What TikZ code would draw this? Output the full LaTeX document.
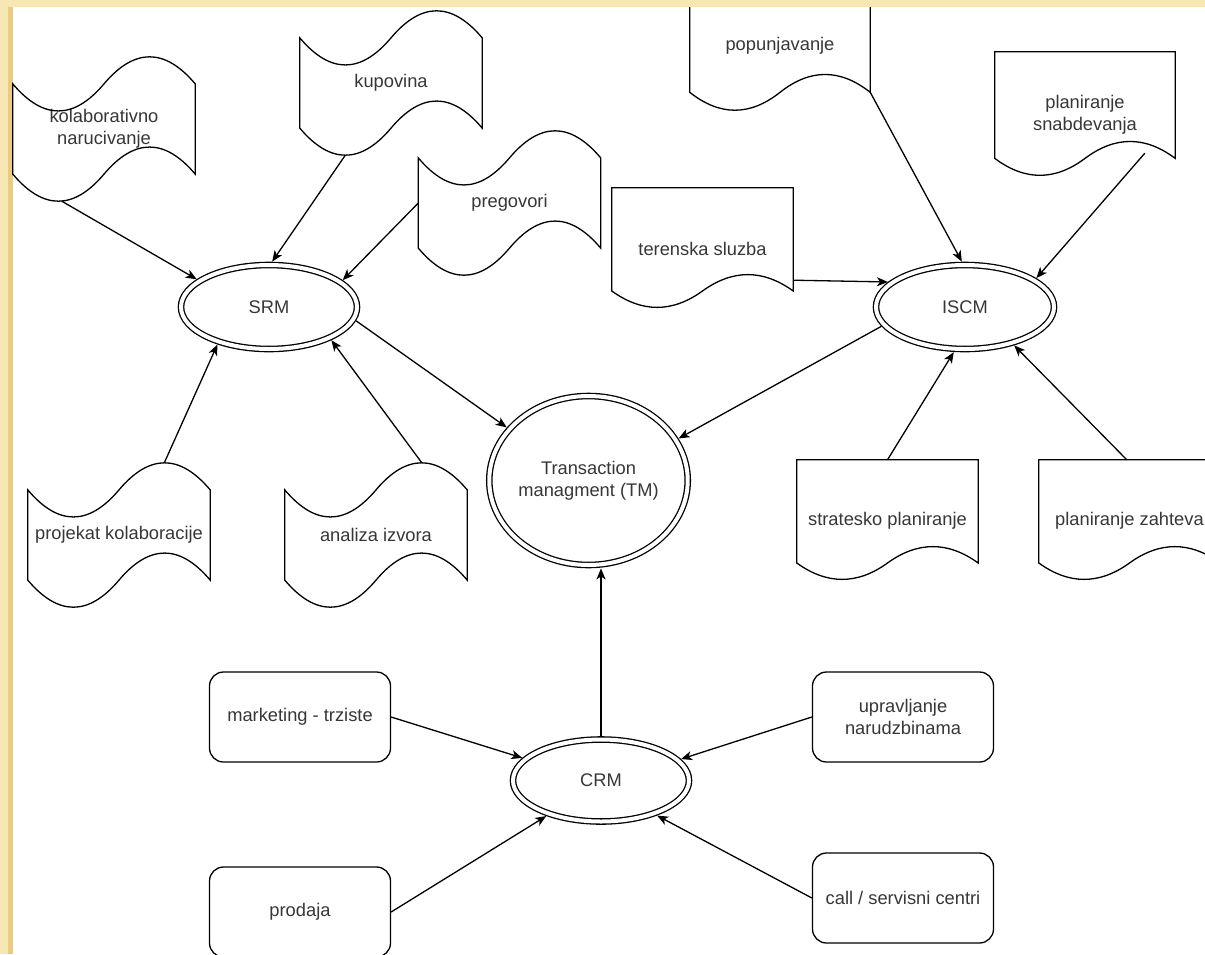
\documentclass[tikz,border=0pt]{standalone}
\usepackage{fontspec}
\setmainfont{Liberation Sans}
\usetikzlibrary{arrows.meta,calc,shapes.geometric}

\definecolor{paper}{RGB}{247,231,180}
\definecolor{rim}{RGB}{234,204,128}
\definecolor{ink}{RGB}{55,55,55}

% wavy outline (top and bottom) round a named node
\newcommand{\tapeline}[1]{%
  \draw[outline] let \p1=(#1.north west), \p2=(#1.south east),
    \n1={\x2-\x1}, \n2={0.4*(\y1-\y2)} in
    (\x1,\y1-0.5*\n2)
    .. controls (\x1+\n1/6,\y1-1.1*\n2) and (\x1+\n1/3,\y1-1.1*\n2) .. (\x1+\n1/2,\y1-0.5*\n2)
    .. controls (\x1+2*\n1/3,\y1+0.1*\n2) and (\x1+5*\n1/6,\y1+0.1*\n2) .. (\x2,\y1-0.5*\n2)
    -- (\x2,\y2+0.5*\n2)
    .. controls (\x1+5*\n1/6,\y2+1.1*\n2) and (\x1+2*\n1/3,\y2+1.1*\n2) .. (\x1+\n1/2,\y2+0.5*\n2)
    .. controls (\x1+\n1/3,\y2-0.1*\n2) and (\x1+\n1/6,\y2-0.1*\n2) .. (\x1,\y2+0.5*\n2)
    -- cycle;}
% flat top, wavy bottom
\newcommand{\docline}[1]{%
  \draw[outline] let \p1=(#1.north west), \p2=(#1.south east),
    \n1={\x2-\x1}, \n2={0.3*(\y1-\y2)} in
    (\x1,\y1) -- (\x2,\y1) -- (\x2,\y2+0.5*\n2)
    .. controls (\x1+5*\n1/6,\y2+1.1*\n2) and (\x1+2*\n1/3,\y2+1.1*\n2) .. (\x1+\n1/2,\y2+0.5*\n2)
    .. controls (\x1+\n1/3,\y2-0.1*\n2) and (\x1+\n1/6,\y2-0.1*\n2) .. (\x1,\y2+0.5*\n2)
    -- cycle;}

\begin{document}
\begin{tikzpicture}[x=1pt, y=-1pt,
  font=\fontsize{18.3}{22}\selectfont,
  outline/.style={line width=1.3pt, draw=black},
  tapebox/.style={minimum width=182pt, minimum height=150pt, inner sep=0pt, align=center, text=ink},
  docbox/.style={minimum width=181pt, minimum height=121pt, inner sep=0pt, align=center, text=ink},
  roundbox/.style={draw, line width=1.3pt, rounded corners=14pt, minimum width=181pt, minimum height=90pt, inner sep=0pt, align=center, text=ink},
  hub/.style={ellipse, draw, line width=1.3pt, double, double distance=4pt, inner sep=0pt, outer sep=3.4pt, align=center, text=ink},
  link/.style={line width=1.3pt, -{Stealth[length=11pt,width=9pt,inset=3pt]}}]

\useasboundingbox (0,0) rectangle (1205,954);
\fill[paper] (0,0) rectangle (1205,954);
\fill[rim] (8,7) rectangle (13,954);
\fill[white] (13,7) rectangle (1205,954);

\begin{scope}
\clip (12,7) rectangle (1205,954);

% SRM side
\node[tapebox] (kolab) at (104,129) {kolaborativno\\narucivanje};
\node[tapebox] (kupovina) at (391,83) {kupovina};
\node[tapebox] (pregovori) at (509.5,203) {pregovori};
\node[tapebox] (projekat) at (119,535) {projekat kolaboracije};
\node[tapebox] (analiza) at (376,535) {analiza izvora};
\tapeline{kolab}
\tapeline{kupovina}
\tapeline{pregovori}
\tapeline{projekat}
\tapeline{analiza}

% ISCM side
\node[docbox, minimum width=180pt, minimum height=132pt] (popun) at (780,46) {popunjavanje};
\node[docbox, minimum width=180pt, minimum height=125pt] (snab) at (1085,114.5) {planiranje\\snabdevanja};
\node[docbox] (teren) at (702.5,248.5) {terenska sluzba};
\node[docbox] (strat) at (887.5,520.5) {stratesko planiranje};
\node[docbox] (zahteva) at (1129.5,520.5) {planiranje zahteva};
\docline{popun}
\docline{snab}
\docline{teren}
\docline{strat}
\docline{zahteva}

% CRM side
\node[roundbox] (marketing) at (300,717) {marketing - trziste};
\node[roundbox] (upravljanje) at (903,717) {upravljanje\\narudzbinama};
\node[roundbox] (prodaja) at (300,912) {prodaja};
\node[roundbox] (call) at (903,898) {call / servisni centri};

% hubs
\node[hub, minimum width=176pt, minimum height=84pt] (srm) at (269,307) {SRM};
\node[hub, minimum width=178pt, minimum height=84pt] (iscm) at (965,307) {ISCM};
\node[hub, minimum width=177pt, minimum height=169pt] (tm) at (588.5,480.5) {Transaction\\managment (TM)};
\node[hub, minimum width=176pt, minimum height=82pt] (crm) at (601,780.5) {CRM};

% arrows
\draw[link] ($(kolab.south west)+(49,-3)$) -- (srm.159);
\draw[link] ($(kupovina.south west)+(45.5,-3)$) -- (srm.86);
\draw[link] (pregovori.west) -- (srm.20);
\draw[link] ($(projekat.north west)+(136.5,3)$) -- (srm.216);
\draw[link] ($(analiza.north west)+(137,3)$) -- (srm.-28);
\draw[link] (srm.-9) -- (tm.147);

\draw[link] ($(popun.south east)+(0,-20)$) -- (iscm.94);
\draw[link] ($(snab.south west)+(150,-24)$) -- (iscm.22);
\draw[link] ($(teren.south east)+(0,-29)$) -- (iscm.162);
\draw[link] (strat.north) -- (iscm.256);
\draw[link] ($(zahteva.north west)+(88,0)$) -- (iscm.-38);
\draw[link] (iscm.193) -- (tm.25);

\draw[link] (crm.north) -- (crm.north |- tm.south);
\draw[link] (marketing.east) -- (crm.164);
\draw[link] (upravljanje.west) -- (crm.15);
\draw[link] (prodaja.east) -- (crm.-147);
\draw[link] (call.west) -- (crm.-32);
\end{scope}
\end{tikzpicture}
\end{document}
